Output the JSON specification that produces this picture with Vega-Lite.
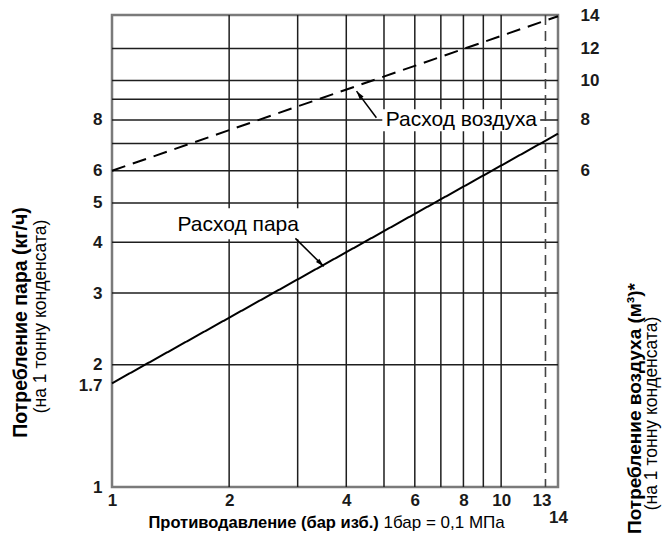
{
  "$schema": "https://vega.github.io/schema/vega-lite/v6.json",
  "width": 446,
  "height": 472,
  "autosize": {"type": "none"},
  "padding": {"left": 112, "top": 15, "right": 112, "bottom": 53},
  "background": "#ffffff",
  "config": {
    "view": {"stroke": "#7a7a7a", "strokeWidth": 2.5},
    "font": "Liberation Sans",
    "axis": {
      "labelFont": "Liberation Sans",
      "titleFont": "Liberation Sans",
      "labelColor": "#1a1a1a",
      "titleColor": "#000000",
      "grid": false,
      "ticks": false,
      "domain": false,
      "labelFontSize": 17,
      "labelFontWeight": "bold",
      "labelOverlap": false,
      "labelFlush": false,
      "labelBound": false
    }
  },
  "datasets": {
    "vgrid": [{"p": 2}, {"p": 3}, {"p": 4}, {"p": 5}, {"p": 6}, {"p": 7}, {"p": 8}, {"p": 9}, {"p": 10}],
    "hgrid": [{"v": 2}, {"v": 3}, {"v": 4}, {"v": 5}, {"v": 6}, {"v": 7}, {"v": 8}, {"v": 9}, {"v": 10}, {"v": 12}],
    "limit": [{"p": 13}],
    "lines": [
      {"series": "steam", "p": 1, "v": 1.8},
      {"series": "steam", "p": 14, "v": 7.4},
      {"series": "air", "p": 1, "v": 6.0},
      {"series": "air", "p": 14, "v": 14.4}
    ],
    "notes": [
      {"label": "Расход пара", "tx": 2.11, "ty": 4.42, "x1": 1.40, "x2": 3.08, "y1": 4.07, "y2": 4.85},
      {"label": "Расход воздуха", "tx": 7.9, "ty": 8.0, "x1": 4.95, "x2": 12.6, "y1": 7.5, "y2": 8.5}
    ],
    "arrows": [
      {"a": "steam", "x1": 2.96, "y1": 4.09, "x2": 3.5, "y2": 3.49},
      {"a": "air", "x1": 4.78, "y1": 8.1, "x2": 4.25, "y2": 9.42}
    ]
  },
  "layer": [
    {
      "data": {"name": "vgrid"},
      "mark": {"type": "rule", "color": "#1e1e1e", "strokeWidth": 1.5},
      "encoding": {
        "x": {
          "field": "p", "type": "quantitative",
          "scale": {"type": "log", "domain": [1, 14], "nice": false},
          "axis": {
            "orient": "bottom",
            "values": [1, 2, 4, 6, 8, 10, 13, 14],
            "labelExpr": "'' + datum.value",
            "labelPadding": {"condition": {"test": "datum.value == 14", "value": 22}, "value": 5},
            "labelOffset": {"condition": {"test": "datum.value == 13", "value": -4}, "value": 0},
            "title": "Противодавление (бар изб.)",
            "titleFontSize": 16.5,
            "titleFontWeight": "bold",
            "titleX": 36,
            "titleY": 35,
            "titleAlign": "left",
            "titleBaseline": "middle"
          }
        }
      }
    },
    {
      "data": {"name": "hgrid"},
      "mark": {"type": "rule", "color": "#1e1e1e", "strokeWidth": 1.5},
      "encoding": {
        "y": {
          "field": "v", "type": "quantitative",
          "scale": {"type": "log", "domain": [1, 14.5], "nice": false},
          "axis": {
            "orient": "left",
            "values": [1, 1.7, 2, 3, 4, 5, 6, 8],
            "labelExpr": "'' + datum.value",
            "labelPadding": 10,
            "labelOffset": {"condition": {"test": "datum.value == 1.7", "value": -8}, "value": 0},
            "title": "Потребление пара (кг/ч)",
            "titleFontSize": 19.5,
            "titleFontWeight": "bold",
            "titleX": -92,
            "titleY": 307,
            "titleAngle": -90,
            "titleAlign": "center",
            "titleBaseline": "middle"
          }
        }
      }
    },
    {
      "data": {"name": "limit"},
      "mark": {"type": "rule", "color": "#444444", "strokeWidth": 1.6, "strokeDash": [10, 6]},
      "encoding": {
        "x": {
          "field": "p", "type": "quantitative",
          "scale": {"type": "log", "domain": [1, 14], "nice": false},
          "axis": {
            "orient": "bottom",
            "labels": false,
            "title": "1бар = 0,1 МПа",
            "titleFontSize": 17,
            "titleFontWeight": "normal",
            "titleX": 271,
            "titleY": 35,
            "titleAlign": "left",
            "titleBaseline": "middle"
          }
        }
      }
    },
    {
      "data": {"name": "notes"},
      "mark": {"type": "rect", "fill": "#ffffff"},
      "encoding": {
        "x": {"field": "x1", "type": "quantitative", "scale": {"type": "log", "domain": [1, 14], "nice": false}, "axis": null},
        "x2": {"field": "x2"},
        "y": {
          "field": "y1", "type": "quantitative",
          "scale": {"type": "log", "domain": [1, 14.5], "nice": false},
          "axis": {
            "orient": "left",
            "labels": false,
            "title": "(на 1 тонну конденсата)",
            "titleFontSize": 17.5,
            "titleFontWeight": "normal",
            "titleX": -72,
            "titleY": 301,
            "titleAngle": -90,
            "titleAlign": "center",
            "titleBaseline": "middle"
          }
        },
        "y2": {"field": "y2"}
      }
    },
    {
      "data": {"name": "lines"},
      "mark": {"type": "line", "color": "#000000", "strokeWidth": 2},
      "encoding": {
        "x": {"field": "p", "type": "quantitative", "scale": {"type": "log", "domain": [1, 14], "nice": false}, "axis": null},
        "y": {
          "field": "v", "type": "quantitative",
          "scale": {"type": "log", "domain": [1, 14.5], "nice": false},
          "axis": {
            "orient": "right",
            "values": [6, 8, 10, 12, 14],
            "labelExpr": "'' + datum.value",
            "labelPadding": 22,
            "labelOffset": {"condition": {"test": "datum.value == 14", "value": -6}, "value": 0},
            "title": "Потребление воздуха (м³)*",
            "titleFontSize": 19,
            "titleFontWeight": "bold",
            "titleX": 76,
            "titleY": 393,
            "titleAngle": -90,
            "titleAlign": "center",
            "titleBaseline": "middle"
          }
        },
        "strokeDash": {
          "field": "series", "type": "nominal",
          "scale": {"domain": ["steam", "air"], "range": [[1, 0], [14, 8]]},
          "legend": null
        }
      }
    },
    {
      "data": {"name": "notes"},
      "mark": {"type": "text", "fontSize": 21, "color": "#000000", "font": "Liberation Sans", "align": "center", "baseline": "middle"},
      "encoding": {
        "x": {"field": "tx", "type": "quantitative", "scale": {"type": "log", "domain": [1, 14], "nice": false}, "axis": null},
        "y": {
          "field": "ty", "type": "quantitative",
          "scale": {"type": "log", "domain": [1, 14.5], "nice": false},
          "axis": {
            "orient": "right",
            "labels": false,
            "title": "(на 1 тонну конденсата)",
            "titleFontSize": 17.5,
            "titleFontWeight": "normal",
            "titleX": 93,
            "titleY": 398,
            "titleAngle": -90,
            "titleAlign": "center",
            "titleBaseline": "middle"
          }
        },
        "text": {"field": "label"}
      }
    },
    {
      "data": {"name": "arrows"},
      "mark": {"type": "rule", "color": "#000000", "strokeWidth": 1.5},
      "encoding": {
        "x": {"field": "x1", "type": "quantitative", "scale": {"type": "log", "domain": [1, 14], "nice": false}, "axis": null},
        "y": {"field": "y1", "type": "quantitative", "scale": {"type": "log", "domain": [1, 14.5], "nice": false}, "axis": null},
        "x2": {"field": "x2"},
        "y2": {"field": "y2"}
      }
    },
    {
      "data": {"name": "arrows"},
      "transform": [{"filter": "datum.a == 'air'"}],
      "mark": {"type": "point", "shape": "M0,0L0.5,1.8L-0.5,1.8Z", "filled": true, "color": "#000000", "opacity": 1, "size": 90, "angle": 323},
      "encoding": {
        "x": {"field": "x2", "type": "quantitative", "scale": {"type": "log", "domain": [1, 14], "nice": false}, "axis": null},
        "y": {"field": "y2", "type": "quantitative", "scale": {"type": "log", "domain": [1, 14.5], "nice": false}, "axis": null}
      }
    },
    {
      "data": {"name": "arrows"},
      "transform": [{"filter": "datum.a == 'steam'"}],
      "mark": {"type": "point", "shape": "M0,0L0.5,1.8L-0.5,1.8Z", "filled": true, "color": "#000000", "opacity": 1, "size": 90, "angle": 135},
      "encoding": {
        "x": {"field": "x2", "type": "quantitative", "scale": {"type": "log", "domain": [1, 14], "nice": false}, "axis": null},
        "y": {"field": "y2", "type": "quantitative", "scale": {"type": "log", "domain": [1, 14.5], "nice": false}, "axis": null}
      }
    }
  ],
  "resolve": {"axis": {"x": "independent", "y": "independent"}}
}
